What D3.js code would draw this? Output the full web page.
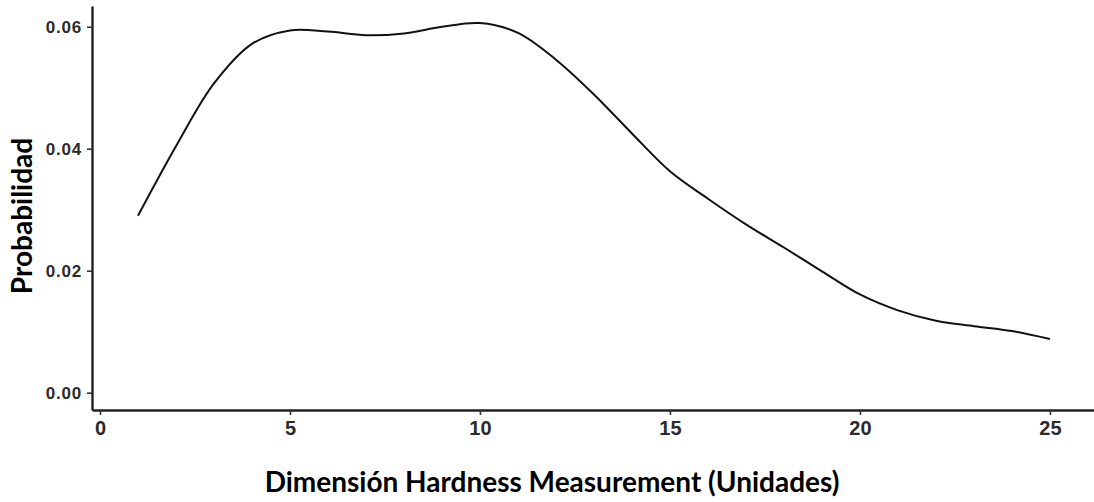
<!DOCTYPE html>
<html>
<head>
<meta charset="utf-8">
<script src="https://cdn.jsdelivr.net/npm/d3@7"></script>
<style>
  body { margin: 0; background: #fff; }
  .tick text { font-family: "Liberation Sans", Arial, sans-serif; font-weight: bold; fill: #2b2b2b; }
  .y-axis .tick text { font-size: 17px; letter-spacing: 0.8px; }
  .x-axis .tick text { font-family: "Liberation Sans Narrow", "Liberation Sans", Arial, sans-serif; font-size: 20px; }
  .title { font-family: Lato, "Open Sans", sans-serif; font-weight: bold; font-size: 28px; fill: #000; }
</style>
</head>
<body>
<div id="chart"></div>
<script>
// density estimate, hardness in units vs probability
const hardness = [1, 2, 3, 4, 5, 6, 7, 8, 9, 10, 11, 12, 13, 14, 15, 16, 17, 18, 19, 20, 21, 22, 23, 24, 25];
const prob = [0.0290, 0.0404, 0.0507, 0.0572, 0.0594, 0.0592, 0.0586, 0.0589, 0.0600, 0.0606,
              0.0590, 0.0546, 0.0489, 0.0425, 0.0363, 0.0318, 0.0276, 0.0238, 0.0199, 0.0161,
              0.0135, 0.0118, 0.0109, 0.0101, 0.0088];
const xTicks = [0, 5, 10, 15, 20, 25];
const yTicks = [0, 0.02, 0.04, 0.06];

const W = 1094, H = 502;
const axisX = 92, axisY = 410;

const svg = d3.select("#chart").append("svg")
    .attr("width", W)
    .attr("height", H);

const x = d3.scaleLinear().domain([-0.21, 26.16]).range([axisX, W]);
const y = d3.scaleLinear().domain([-0.00284, 0.0634]).range([axisY, 6]);

// x axis
const gx = svg.append("g")
    .attr("class", "x-axis")
    .attr("transform", `translate(0,${axisY})`)
    .call(d3.axisBottom(x).tickValues(xTicks).tickFormat(d3.format("d")).tickSize(5).tickSizeOuter(0).tickPadding(6));

// y axis
const gy = svg.append("g")
    .attr("class", "y-axis")
    .attr("transform", `translate(${axisX},0)`)
    .call(d3.axisLeft(y).tickValues(yTicks).tickFormat(d3.format(".2f")).tickSize(5).tickSizeOuter(0).tickPadding(5));

[gx, gy].forEach(g => {
    g.select(".domain").attr("stroke", "#222").attr("stroke-width", 2.4);
    g.selectAll(".tick line").attr("stroke", "#333").attr("stroke-width", 1.6);
});

// density curve
const line = d3.line()
    .x((d, i) => x(hardness[i]))
    .y(d => y(d))
    .curve(d3.curveCatmullRom.alpha(0.5));

svg.append("path")
    .datum(prob)
    .attr("fill", "none")
    .attr("stroke", "#111")
    .attr("stroke-width", 2)
    .attr("d", line);

// axis titles
svg.append("text")
    .attr("class", "title")
    .attr("x", 552)
    .attr("y", 492)
    .attr("text-anchor", "middle")
    .text("Dimensión Hardness Measurement (Unidades)");

svg.append("text")
    .attr("class", "title")
    .attr("transform", "translate(32,216) rotate(-90)")
    .attr("text-anchor", "middle")
    .text("Probabilidad");
</script>
</body>
</html>
